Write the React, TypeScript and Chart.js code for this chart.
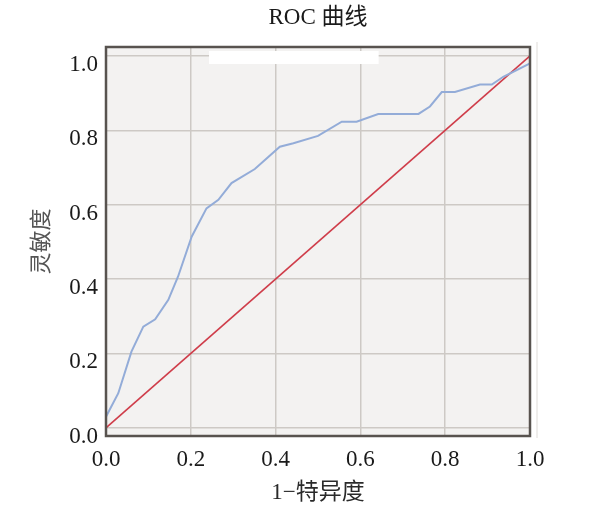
import React, { useEffect, useRef } from "react";
import { Chart, registerables } from "chart.js";

Chart.register(...registerables);

const titleText = "ROC 曲线";
const xAxisTitle = "1−特异度";
const yAxisTitle = "灵敏度";
const tickValues = [0, 0.2, 0.4, 0.6, 0.8, 1.0];

// ROC curve (1 - specificity, sensitivity)
const fprValues = [0, 0.029, 0.06, 0.088, 0.116, 0.147, 0.17, 0.202, 0.237, 0.265, 0.296, 0.351, 0.41, 0.442, 0.5, 0.556, 0.591, 0.642, 0.737, 0.764, 0.792, 0.823, 0.882, 0.91, 0.937, 1.0];
const tprValues = [0.03, 0.093, 0.205, 0.272, 0.292, 0.344, 0.407, 0.514, 0.59, 0.613, 0.658, 0.696, 0.756, 0.765, 0.785, 0.823, 0.823, 0.844, 0.844, 0.864, 0.903, 0.903, 0.923, 0.923, 0.944, 0.98];

// reference diagonal
const refX = [0, 1];
const refY = [0, 1];

const FONT = '"Liberation Serif", "Times New Roman", "Noto Sans CJK SC", serif';

const plotDecor = {
  id: "plotDecor",
  beforeDraw(chart: any) {
    const { ctx, chartArea: a } = chart;
    ctx.save();
    ctx.fillStyle = "#f3f2f1";
    ctx.fillRect(a.left, a.top, a.right - a.left, a.bottom - a.top);
    ctx.restore();
  },
  beforeDatasetsDraw(chart: any) {
    const { ctx, chartArea: a } = chart;
    const w = a.right - a.left;
    ctx.save();
    ctx.fillStyle = "#ffffff";
    ctx.fillRect(a.left + w * 0.243, a.top + 4, w * 0.4, 13);
    ctx.restore();
  },
  afterDatasetsDraw(chart: any) {
    const { ctx, chartArea: a } = chart;
    ctx.save();
    ctx.strokeStyle = "#58534f";
    ctx.lineWidth = 2.5;
    ctx.strokeRect(a.left, a.top, a.right - a.left, a.bottom - a.top);
    ctx.strokeStyle = "#dedbd8";
    ctx.lineWidth = 1;
    ctx.beginPath();
    ctx.moveTo(a.right + 7, a.top - 5);
    ctx.lineTo(a.right + 7, a.bottom + 2);
    ctx.stroke();
    ctx.restore();
  },
};

export default function App() {
  const ref = useRef<HTMLCanvasElement | null>(null);
  useEffect(() => {
    if (!ref.current) return;
    const chart = new Chart(ref.current, {
      type: "line",
      data: {
        datasets: [
          {
            label: "ROC",
            data: fprValues.map((x, i) => ({ x, y: tprValues[i] })),
            borderColor: "#93acd8",
            borderWidth: 2,
            pointRadius: 0,
            tension: 0,
            fill: false,
          },
          {
            label: "参考线",
            data: refX.map((x, i) => ({ x, y: refY[i] })),
            borderColor: "#cf3d4a",
            borderWidth: 1.5,
            pointRadius: 0,
            tension: 0,
            fill: false,
          },
        ],
      },
      options: {
        responsive: false,
        animation: false,
        devicePixelRatio: 1,
        layout: { padding: { top: 0, right: 62, bottom: 0, left: 0 } },
        plugins: {
          legend: { display: false },
          tooltip: { enabled: false },
          title: {
            display: true,
            fullSize: false,
            text: titleText,
            color: "#1a1a1a",
            font: { family: FONT, size: 23, weight: "normal" },
            padding: { top: 4, bottom: 15.4 },
          },
        },
        scales: {
          x: {
            type: "linear",
            min: 0,
            max: 1,
            afterBuildTicks: (s: any) => {
              s.ticks = tickValues.map((v) => ({ value: v }));
            },
            afterFit: (s: any) => {
              s.height = 80;
            },
            grid: { color: "#cdc9c5", lineWidth: 1.5, drawTicks: false },
            border: { display: false },
            ticks: {
              padding: 10,
              color: "#1a1a1a",
              font: { family: FONT, size: 23 },
              callback: (v: any) => Number(v).toFixed(1),
            },
            title: {
              display: true,
              text: xAxisTitle,
              color: "#2a2a2a",
              font: { family: FONT, size: 23 },
              padding: { top: 0, bottom: 9 },
            },
          },
          y: {
            type: "linear",
            min: -0.022,
            max: 1.024,
            afterBuildTicks: (s: any) => {
              s.ticks = tickValues.map((v) => ({ value: v }));
            },
            afterFit: (s: any) => {
              s.width = 106;
            },
            grid: { color: "#cdc9c5", lineWidth: 1.5, drawTicks: false },
            border: { display: false },
            ticks: {
              padding: 8,
              labelOffset: 9,
              color: "#1a1a1a",
              font: { family: FONT, size: 23 },
              callback: (v: any) => Number(v).toFixed(1),
            },
            title: {
              display: true,
              text: yAxisTitle,
              color: "#555555",
              font: { family: FONT, size: 22 },
              padding: { top: 29, bottom: 0 },
            },
          },
        },
      },
      plugins: [plotDecor],
    });
    return () => chart.destroy();
  }, []);
  return (
    <div style={{ position: "fixed", left: 0, top: 0, width: 592, height: 516, background: "#ffffff" }}>
      <canvas ref={ref} width={592} height={516} style={{ display: "block" }} />
    </div>
  );
}
